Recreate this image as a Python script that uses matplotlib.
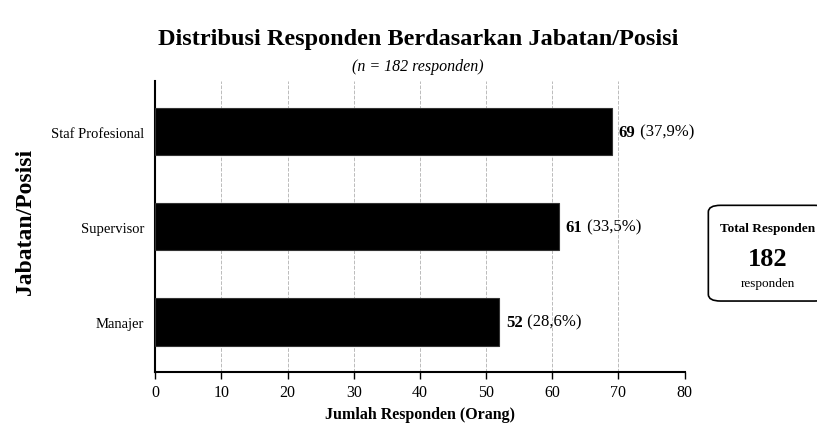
import matplotlib
matplotlib.use("Agg")
import matplotlib.pyplot as plt
from matplotlib.patches import FancyBboxPatch

plt.rcParams['font.family'] = ['Liberation Serif', 'DejaVu Serif']

jabatan = ['Manajer', 'Supervisor', 'Staf Profesional']
jumlah = [52, 61, 69]
persen = ['28,6%', '33,5%', '37,9%']
total = 182
xticks = [0, 10, 20, 30, 40, 50, 60, 70, 80]

fig = plt.figure(figsize=(8.17, 4.39), dpi=100)
ax = fig.add_axes([0.190, 0.150, 0.648, 0.663])

ax.barh(jabatan, jumlah, height=0.5, color='black', edgecolor='#333333', linewidth=0.8, zorder=3)

for i, (v, p) in enumerate(zip(jumlah, persen)):
    t = ax.annotate(str(v), (v, i), xytext=(5, 0), textcoords='offset points',
                    va='center', ha='left', fontsize=12, fontweight='bold')
    ax.annotate(' (' + p + ')', xycoords=t, xy=(1, 0.5), va='center', ha='left', fontsize=12)

ax.set_xlim(0, 80)
ax.set_ylim(-0.53, 2.53)
ax.set_xticks(xticks)
ax.tick_params(axis='x', labelsize=11.5, length=5, width=1)
ax.tick_params(axis='y', labelsize=10.5, length=0, pad=8)
ax.grid(axis='x', linestyle='--', color='#bbbbbb', linewidth=0.7, zorder=0)
for s in ['top', 'right']:
    ax.spines[s].set_visible(False)
ax.spines['left'].set_linewidth(1.5)
ax.spines['bottom'].set_linewidth(1.5)

ax.set_xlabel('Jumlah Responden (Orang)', fontsize=11.5, fontweight='bold', labelpad=4)
ax.set_ylabel('Jabatan/Posisi', fontsize=17, fontweight='bold')
ax.yaxis.set_label_coords(-0.225, 0.52)

fig.text(0.512, 0.91, 'Distribusi Responden Berdasarkan Jabatan/Posisi',
         ha='center', va='center', fontsize=17.5, fontweight='bold')
fig.text(0.512, 0.848, '(n = 182 responden)', ha='center', va='center',
         fontsize=11.5, style='italic')

box = FancyBboxPatch((0.867, 0.312), 0.145, 0.218, boxstyle='round,pad=0,rounding_size=0.015',
                     transform=fig.transFigure, facecolor='white', edgecolor='black',
                     linewidth=1.2, clip_on=False)
fig.patches.append(box)
fig.text(0.94, 0.478, 'Total Responden', ha='center', va='center', fontsize=9.5, fontweight='bold')
fig.text(0.94, 0.41, str(total), ha='center', va='center', fontsize=19, fontweight='bold')
fig.text(0.94, 0.354, 'responden', ha='center', va='center', fontsize=9.5)

fig.savefig('out.png', dpi=100, facecolor='white')
